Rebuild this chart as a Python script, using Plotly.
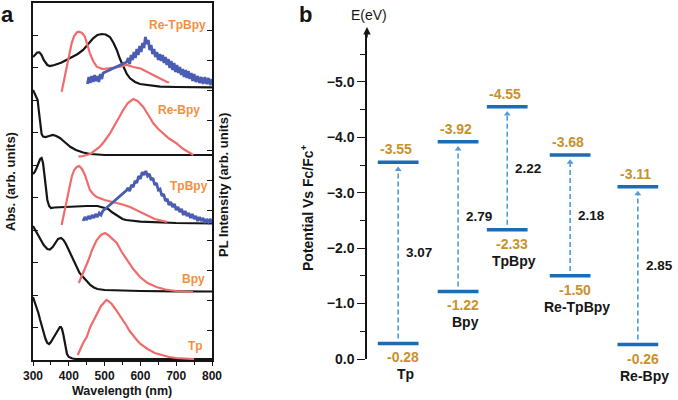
import plotly.graph_objects as go

W, H = 678, 400
FONT = "Liberation Sans"

# ---------------- panel a : stacked spectra (offset arb. units) ----------------
tp_abs_wl = [300, 305, 310, 315, 320, 325, 330, 335, 340, 345, 350, 355, 360, 365, 370, 375, 378, 381, 385,
             388, 391, 395, 400, 405, 410, 420, 450, 500, 600, 700, 800]
tp_abs = [63, 58, 52, 47, 40, 33, 27, 21, 17, 16, 18, 21, 25, 28, 31, 33, 33, 31, 25,
          18, 11, 6, 3, 2, 1.5, 1, 1, 1, 1, 1, 1]
tp_pl_wl = [425, 430, 440, 450, 460, 470, 480, 490, 500, 505, 510, 520, 530, 540, 550, 560, 570, 580, 590,
            600, 620, 640, 660, 680, 700, 720, 750]
tp_pl = [5, 9, 17, 23, 33, 40, 47, 54, 58, 60, 59, 56, 51, 46, 41, 35, 29, 24, 20,
         16, 11, 7, 5, 3, 2, 1.5, 1]

bpy_abs_wl = [300, 305, 310, 320, 330, 340, 347, 355, 362, 370, 378, 385, 392, 400, 412, 420, 430, 440, 450,
              460, 470, 480, 500, 550, 600, 700, 800]
bpy_abs = [134, 131, 128, 121, 115, 111, 110.5, 113, 117, 121, 122, 120, 116, 110, 100, 94, 87, 83, 79,
           75, 72.5, 71, 70, 69.3, 69, 68.7, 68.5]
bpy_pl_wl = [428, 440, 455, 465, 478, 490, 501, 510, 520, 534, 548, 562, 580, 599, 620, 645, 670, 700, 747]
bpy_pl = [77, 87, 100, 110, 120, 125, 127, 125, 122, 117, 108, 100, 91, 83, 77, 73, 70.5, 69, 68]

tpbpy_abs_wl = [300, 305, 310, 315, 320, 324, 328, 332, 336, 340, 345, 350, 360, 380, 400, 450, 480, 500, 510,
                520, 530, 540, 550, 560, 580, 600, 700, 800]
tpbpy_abs = [186, 188, 192, 197, 201, 202, 197, 185, 170, 160, 154, 152, 152.5, 153, 153, 154, 154, 152.5, 151,
             148, 145.5, 143, 141, 140, 139, 138.3, 137, 136.5]
tpbpy_pl_wl = [380, 387, 394, 401, 408, 415, 422, 429, 437, 445, 452, 459, 468, 478, 500, 524, 550, 571, 595,
               618, 640, 664, 675]
tpbpy_pl = [135, 148, 160, 172, 183, 190, 193, 194, 191, 185, 177, 170, 166, 163, 160, 158, 155.5, 153, 149,
            145, 141, 139, 138]
tpbpy_pl2_wl = [440, 445, 450, 455, 460, 465, 470, 475, 480, 485, 490, 495, 562, 565, 570, 575, 580, 585, 590,
                595, 600, 605, 610, 615, 620, 625, 630, 635, 640, 645, 650, 655, 660, 665, 670, 675, 680, 685,
                690, 695, 700, 705, 710, 715, 720, 725, 730, 735, 740, 745, 750, 755, 760, 765, 770, 775, 780,
                785, 790, 795, 800]
tpbpy_pl2 = [139, 143, 140, 144, 141, 145, 142, 146, 143, 147, 145, 149, 170, 172, 169, 175, 173, 179, 177,
             184, 181, 188, 185, 189, 184, 186, 180, 182, 175, 177, 170, 171, 164, 166, 159, 161, 155, 158,
             153, 156, 150, 153, 148, 151, 145, 149, 144, 147, 142, 146, 141, 144, 139, 143, 139, 142, 137,
             141, 138, 141, 137]

rebpy_abs_wl = [300, 303, 306, 310, 313, 316, 320, 324, 328, 335, 345, 355, 365, 375, 385, 395, 405, 420, 440,
                460, 480, 500, 600, 700, 800]
rebpy_abs = [270, 268, 265, 263, 260, 250, 238, 226, 223.5, 223, 224, 225, 224, 222, 219, 216, 213, 210, 207.5,
             206, 205.5, 205, 205, 205, 205]
rebpy_pl_wl = [427, 440, 460, 487, 500, 515, 530, 545, 552, 565, 580, 592, 608, 622, 636, 650, 664, 680, 701,
               720, 748]
rebpy_pl = [203.3, 204, 206, 213.3, 219, 226.7, 236, 246, 250, 257, 261, 259, 253, 245, 236.7, 231, 226.7,
            221.5, 216.7, 211, 205]

retpbpy_abs_wl = [300, 306, 312, 318, 324, 330, 340, 347, 360, 380, 394, 410, 425, 440, 455, 468, 480, 492, 503,
                  515, 525, 534, 543, 552, 562, 571, 585, 599, 625, 655, 700, 800]
retpbpy_abs = [303, 305.5, 307.5, 307.7, 305, 300, 295, 294, 295, 297.5, 300, 303, 306, 310, 316, 321.7, 325,
               326, 325.5, 323, 317, 310, 301, 293.3, 286, 281.7, 278, 276, 274.5, 273.3, 273, 272.7]
retpbpy_pl_wl = [380, 387, 394, 401, 408, 415, 422, 428, 437, 445, 452, 459, 468, 478, 495, 515, 540, 562, 580,
                 599, 618, 636, 655, 673, 680]
retpbpy_pl = [268.3, 281, 293.3, 306, 316.7, 324, 327.5, 328.3, 327, 323.3, 315, 306.7, 299, 293.3, 291, 291.7,
              293, 295, 293, 291.7, 288.5, 285, 281.5, 278.3, 277.5]
retpbpy_pl2_wl = [452, 456, 460, 464, 468, 472, 476, 480, 484, 488, 492, 496, 562, 566, 570, 574, 578, 582, 586,
                  590, 594, 598, 602, 606, 610, 614, 618, 622, 626, 630, 634, 638, 642, 646, 650, 654, 658, 662,
                  666, 670, 674, 678, 682, 686, 690, 694, 698, 702, 706, 710, 714, 718, 722, 726, 730, 734, 738,
                  742, 746, 750, 755, 760, 765, 770, 775, 780, 785, 790, 795, 800]
retpbpy_pl2 = [276, 283, 277, 284, 278, 285, 279, 284, 278, 286, 281, 287, 298, 302, 296, 305, 300, 308, 302,
               311, 305, 314, 308, 317, 312, 323, 316, 320, 310, 315, 306, 311, 303, 308, 300, 306, 299, 305,
               297, 303, 295, 301, 292, 299, 290, 297, 288, 295, 287, 293, 285, 291, 283, 290, 282, 289, 281,
               287, 279, 286, 278, 284, 277, 283, 276, 283, 276, 282, 275, 281]

sample_labels = ["Re-TpBpy", "Re-Bpy", "TpBpy", "Bpy", "Tp"]
label_pos = [(789, 335), (772, 250), (794, 174), (786, 81), (780, 14)]

# ---------------- panel b : energy levels ----------------
names = ["Tp", "Bpy", "TpBpy", "Re-TpBpy", "Re-Bpy"]
lumo = [-3.55, -3.92, -4.55, -3.68, -3.11]
homo = [-0.28, -1.22, -2.33, -1.50, -0.26]
gaps = [3.07, 2.79, 2.22, 2.18, 2.85]

col_x = [0, 1, 1.82, 2.87, 4.0]
half = 0.34

BLACK = "#151515"
RED = "#F06B6B"
BLUE = "#4A5DB2"
ORANGE = "#F58F3F"
GOLD = "#C8912B"
BAR = "#1A6CB4"
DASH = "#4F9BDC"


def px(x):
    return x / W


def py(y):
    return 1 - y / H


def note(x, y, text, size, color=BLACK, bold=True, angle=0):
    return dict(x=px(x), y=py(y), xref="paper", yref="paper", text=text, showarrow=False,
                xanchor="center", yanchor="middle", textangle=angle,
                font=dict(family=FONT, size=size, color=color, weight="bold" if bold else "normal"))


fig = go.Figure()

for wl, a in [(tp_abs_wl, tp_abs), (bpy_abs_wl, bpy_abs), (tpbpy_abs_wl, tpbpy_abs),
              (rebpy_abs_wl, rebpy_abs), (retpbpy_abs_wl, retpbpy_abs)]:
    fig.add_trace(go.Scatter(x=wl, y=a, mode="lines", line=dict(color=BLACK, width=2.2),
                             xaxis="x", yaxis="y"))
for wl, p in [(tp_pl_wl, tp_pl), (bpy_pl_wl, bpy_pl), (tpbpy_pl_wl, tpbpy_pl),
              (rebpy_pl_wl, rebpy_pl), (retpbpy_pl_wl, retpbpy_pl)]:
    fig.add_trace(go.Scatter(x=wl, y=p, mode="lines", line=dict(color=RED, width=2.2),
                             xaxis="x", yaxis="y2"))
for wl, p in [(tpbpy_pl2_wl, tpbpy_pl2), (retpbpy_pl2_wl, retpbpy_pl2)]:
    fig.add_trace(go.Scatter(x=wl, y=p, mode="lines", line=dict(color=BLUE, width=2.8),
                             xaxis="x", yaxis="y2"))

# level bars
for levels in (lumo, homo):
    xs, ys = [], []
    for c, e in zip(col_x, levels):
        xs += [c - half, c + half, None]
        ys += [e, e, None]
    fig.add_trace(go.Scatter(x=xs, y=ys, mode="lines", line=dict(color=BAR, width=3.5),
                             xaxis="x2", yaxis="y3"))

# dashed excitation arrows
xs, ys = [], []
for c, lo, hi in zip(col_x, homo, lumo):
    xs += [c, c, None]
    ys += [lo - 0.09, hi + 0.13, None]
fig.add_trace(go.Scatter(x=xs, y=ys, mode="lines", line=dict(color=DASH, width=1.6, dash="5px,3px"),
                         xaxis="x2", yaxis="y3"))
fig.add_trace(go.Scatter(x=col_x, y=[e + 0.13 for e in lumo], mode="markers",
                         marker=dict(symbol="triangle-up", size=6, color=DASH),
                         xaxis="x2", yaxis="y3", cliponaxis=False))

ann = []
for t, (lx, ly) in zip(sample_labels, label_pos):
    ann.append(dict(x=lx, y=ly, xref="x", yref="y", text=t, showarrow=False, xanchor="right",
                    yanchor="middle", font=dict(family=FONT, size=12, color=ORANGE, weight="bold")))

for c, e in zip(col_x, lumo):
    ann.append(dict(x=c, y=e, xref="x2", yref="y3", text="%.2f" % e, showarrow=False, yshift=13, xshift=-2,
                    xanchor="center", yanchor="middle",
                    font=dict(family=FONT, size=14, color=GOLD, weight="bold")))
for c, e, n in zip(col_x, homo, names):
    ann.append(dict(x=c, y=e, xref="x2", yref="y3", text="%.2f" % e, showarrow=False, yshift=-14, xshift=5,
                    xanchor="center", yanchor="middle",
                    font=dict(family=FONT, size=14, color=GOLD, weight="bold")))
    ann.append(dict(x=c, y=e, xref="x2", yref="y3", text=n, showarrow=False, yshift=-31, xshift=7,
                    xanchor="center", yanchor="middle",
                    font=dict(family=FONT, size=14, color=BLACK, weight="bold")))
for c, lo, hi, g in zip(col_x, homo, lumo, gaps):
    ann.append(dict(x=c, y=(lo + hi) / 2, xref="x2", yref="y3", text="%.2f" % g, showarrow=False,
                    xanchor="left", yanchor="middle", xshift=6,
                    font=dict(family=FONT, size=13.5, color=BLACK, weight="bold")))

# titles and panel letters
ann += [
    note(7, 15, "a", 22),
    note(305, 15, "b", 22),
    note(369, 15, "E(eV)", 14, bold=False),
    note(122, 391, "Wavelength (nm)", 12.5),
    note(10, 182, "Abs. (arb. units)", 13, angle=-90),
    note(223, 185, "PL Intensity (arb. units)", 13, angle=-90),
    note(307, 208, "Potential Vs Fc/Fc<sup>+</sup>", 14, angle=-90),
    # axis arrow head
    dict(x=px(367), y=py(27), xref="paper", yref="paper", ax=0, ay=12,
         showarrow=True, arrowhead=2, arrowsize=1, arrowwidth=1.5, arrowcolor=BLACK, text=""),
]

fig.update_layout(
    template="none",
    width=W, height=H, margin=dict(l=0, r=0, t=0, b=0, pad=0),
    paper_bgcolor="white", plot_bgcolor="white", showlegend=False,
    font=dict(family=FONT, color=BLACK),
    xaxis=dict(domain=[px(33), px(212)], range=[300, 800], anchor="y", automargin=False,
               showline=True, linecolor=BLACK, linewidth=1.5, mirror=True,
               ticks="outside", ticklen=4, tickcolor=BLACK, dtick=100, tick0=300,
               minor=dict(dtick=50, ticks="outside", ticklen=3, tickcolor=BLACK),
               tickfont=dict(family=FONT, size=12, weight="bold", color=BLACK),
               showgrid=False, zeroline=False),
    yaxis=dict(domain=[py(360), py(3)], range=[0, 357], anchor="x", automargin=False,
               showline=True, linecolor=BLACK, linewidth=1.5,
               ticks="inside", ticklen=5, tickcolor=BLACK, tick0=0, dtick=32.5,
               showticklabels=False, showgrid=False, zeroline=False),
    yaxis2=dict(domain=[py(360), py(3)], range=[0, 357], anchor="x", overlaying="y", side="right",
                automargin=False, showline=True, linecolor=BLACK, linewidth=1.5,
                ticks="inside", ticklen=5, tickcolor=BLACK, tick0=0, dtick=30,
                showticklabels=False, showgrid=False, zeroline=False),
    xaxis2=dict(domain=[px(367), 1], range=[-0.52, 4.67], anchor="y3", visible=False, automargin=False),
    yaxis3=dict(domain=[py(359), py(32)], range=[0, -5.9], anchor="x2", automargin=False,
                showline=True, linecolor=BLACK, linewidth=1.5,
                ticks="outside", ticklen=8, tickcolor=BLACK, tick0=0, dtick=1, tickformat=".1f",
                minor=dict(dtick=0.5, ticks="outside", ticklen=5, tickcolor=BLACK),
                tickfont=dict(family=FONT, size=14, weight="bold", color=BLACK),
                showgrid=False, zeroline=False),
    annotations=ann,
)

# the page body has a default 8px margin; drop it so the figure sits at the window corner
fig.write_html("out.html", config={"displayModeBar": False},
               post_script="document.body.style.margin='0px';")
